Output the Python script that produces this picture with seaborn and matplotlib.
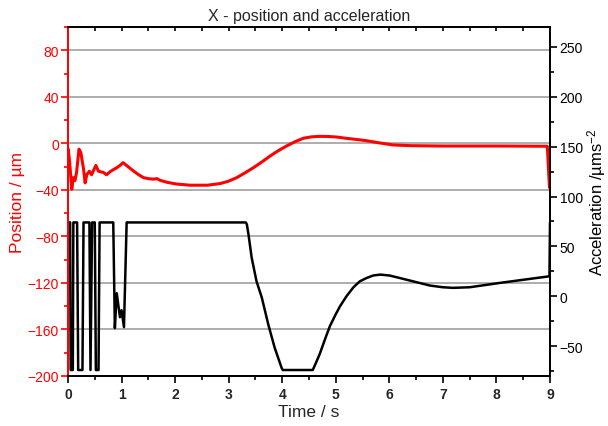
import numpy as np
import pandas as pd
import matplotlib
matplotlib.use("Agg")
import matplotlib.pyplot as plt
import seaborn as sns
from matplotlib.ticker import MultipleLocator

# ---- data ----
pos_t = [0.00, 0.005, 0.03, 0.07, 0.10, 0.13, 0.16, 0.205, 0.24, 0.29, 0.32, 0.35,
         0.40, 0.44, 0.48, 0.52, 0.57, 0.66, 0.72, 0.78, 0.85, 0.91, 0.97, 1.03,
         1.12, 1.22, 1.32, 1.41, 1.52, 1.60, 1.66, 1.72, 1.85, 2.03, 2.28, 2.60,
         2.84, 3.00, 3.15, 3.30, 3.46, 3.62, 3.77, 3.92, 4.08, 4.23, 4.39, 4.55,
         4.70, 4.86, 5.02, 5.20, 5.45, 5.58, 5.80, 6.07, 6.40, 7.00, 8.00, 8.95, 8.99]
pos_v = [-8, -5, -16, -39.5, -29.5, -32, -25, -5, -8, -22, -34, -27,
         -24, -27, -23, -19, -24, -25, -27, -24.6, -22.5, -21, -19, -16.6,
         -20, -23.7, -27, -29.5, -30.5, -30.8, -30.3, -31.8, -33.5, -35, -36, -36,
         -34.6, -32.5, -29.5, -25.5, -21, -16, -11, -6.5, -2.3, 1.2, 4.3, 5.6,
         6, 5.9, 5.4, 4.3, 3, 2.2, 0.5, -1.4, -2.0, -2.3, -2.3, -2.5, -38]

acc_t = [0.00, 0.04, 0.05, 0.09, 0.10, 0.17, 0.19, 0.27, 0.29, 0.40, 0.42, 0.45,
         0.47, 0.50, 0.52, 0.57, 0.59, 0.845, 0.875, 0.91, 0.97, 1.00, 1.045, 1.095,
         3.32, 3.34, 3.37, 3.43, 3.52, 3.62, 3.74, 3.86, 3.99, 4.01, 4.57, 4.62,
         4.70, 4.80, 4.89, 5.00, 5.08, 5.20, 5.33, 5.45, 5.58, 5.70, 5.83, 6.00,
         6.14, 6.40, 6.76, 7.00, 7.19, 7.50, 8.07, 8.50, 8.99, 9.00]
acc_v = [74, 74, -74, -74, 74, 74, -74, -74, 74, 74, -74, 74,
         74, 74, -74, -74, 74, 74, -32, 3, -21, -14, -31, 74,
         74, 72, 62, 38.5, 15, -1.6, -28.4, -51.8, -72, -74, -74, -68,
         -58, -43, -30, -18, -10, 0, 9, 15, 18.4, 20.8, 21.7, 20.8,
         19, 15.5, 10.7, 9, 8.4, 9, 13.4, 16.5, 20, 74]

x_ticks = [0, 1, 2, 3, 4, 5, 6, 7, 8, 9]
left_ticks = [-200, -160, -120, -80, -40, 0, 40, 80]
right_ticks = [-50, 0, 50, 100, 150, 200, 250]

title = "X - position and acceleration"
xlabel = "Time / s"
ylabel_left = "Position / µm"
ylabel_right = "Acceleration /µms$^{-2}$"

# ---- style ----
sns.set_theme(style="white")
plt.rcParams['font.family'] = ['Liberation Sans', 'DejaVu Sans']
plt.rcParams['mathtext.fontset'] = 'custom'
plt.rcParams['mathtext.rm'] = 'Liberation Sans'
plt.rcParams['mathtext.it'] = 'Liberation Sans'
plt.rcParams['mathtext.bf'] = 'Liberation Sans:bold'

pos_df = pd.DataFrame({"t": pos_t, "v": pos_v})
acc_df = pd.DataFrame({"t": acc_t, "v": acc_v})

fig = plt.figure(figsize=(6.08, 4.27), dpi=100)
ax = fig.add_axes([68 / 608, 50 / 427, 482 / 608, 349 / 427])

sns.lineplot(data=pos_df, x="t", y="v", ax=ax, color="#ff0000", lw=2.2,
             sort=False, estimator=None, zorder=3)
ax.set_xlim(0, 9)
ax.set_ylim(-200, 100)
ax.set_yticks(left_ticks)
ax.set_xticks(x_ticks)
ax.yaxis.set_minor_locator(MultipleLocator(20))
ax.xaxis.set_minor_locator(MultipleLocator(0.5))
ax.grid(True, axis='y', which='major', color='#a0a0a0', lw=1.2)
ax.grid(False, axis='x')
ax.set_axisbelow(True)

ax2 = ax.twinx()
sns.lineplot(data=acc_df, x="t", y="v", ax=ax2, color="black", lw=1.8,
             sort=False, estimator=None)
ax2.set_ylim(-80, 270)
ax2.set_yticks(right_ticks)
ax2.yaxis.set_minor_locator(MultipleLocator(25))
ax2.grid(False)
ax2.set_xlim(0, 9)

# spines
for a in (ax, ax2):
    for s in a.spines.values():
        s.set_linewidth(1.3)
        s.set_color('black')
ax.spines['left'].set_color('#ff0000')
ax2.spines['left'].set_color('#ff0000')

ax.tick_params(axis='y', which='major', direction='out', left=True, length=5,
               width=1.2, color='#ff0000', labelcolor='#ff0000', labelsize=10, pad=1.5)
ax.tick_params(axis='y', which='minor', direction='out', left=True, length=3,
               width=1.2, color='#ff0000')
ax.tick_params(axis='x', which='major', direction='out', bottom=True, length=5,
               width=1.2, color='black', labelsize=10, pad=3)
ax.tick_params(axis='x', which='minor', direction='out', bottom=True, length=3,
               width=1.2, color='black')
for lab in ax.get_xticklabels():
    lab.set_fontweight('bold')

ax2.tick_params(axis='y', which='major', direction='out', right=True, length=5,
                width=1.2, color='black', labelcolor='black', labelsize=10, pad=2)
ax2.tick_params(axis='y', which='minor', direction='out', right=True, length=3,
                width=1.2, color='black')

top = ax.secondary_xaxis('top')
top.set_xticks(np.arange(0, 9.01, 0.5))
top.tick_params(direction='in', length=3, width=1.2, labeltop=False, top=True, color='black')
top.spines['top'].set_linewidth(1.3)

ax.set_xlabel(xlabel, fontsize=12.5, labelpad=2)
ax.set_ylabel(ylabel_left, fontsize=12.5, color='#ff0000', labelpad=2)
ax2.set_ylabel(ylabel_right, fontsize=12, color='black', labelpad=1)
ax.set_title(title, fontsize=11.5, pad=5)

fig.savefig("out.png", dpi=100)
